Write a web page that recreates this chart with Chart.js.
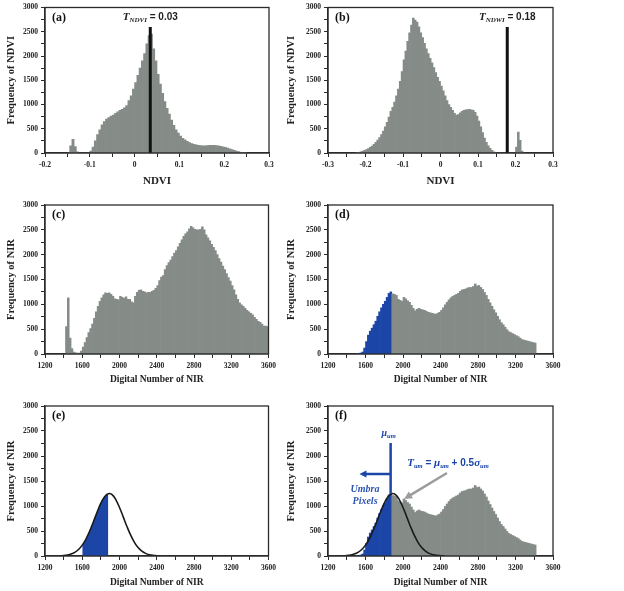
<!DOCTYPE html>
<html>
<head>
<meta charset="utf-8">
<script src="https://cdn.jsdelivr.net/npm/chart.js@4.4.0/dist/chart.umd.min.js"></script>
<style>
  html, body { margin: 0; padding: 0; background: #fff; }
  #fig { position: relative; width: 624px; height: 591px; overflow: hidden; }
  #fig canvas { position: absolute; }
</style>
</head>
<body>
<div id="fig">
  <canvas id="pa" width="280" height="195" style="left:0;top:0"></canvas>
  <canvas id="pb" width="344" height="195" style="left:280px;top:0"></canvas>
  <canvas id="pc" width="280" height="195" style="left:0;top:195px"></canvas>
  <canvas id="pd" width="344" height="195" style="left:280px;top:195px"></canvas>
  <canvas id="pe" width="280" height="201" style="left:0;top:390px"></canvas>
  <canvas id="pf" width="344" height="201" style="left:280px;top:390px"></canvas>
</div>
<script>
// ── data ────────────────────────────────────────────────────────────────────
const ndviBin = 0.005
const nirBin = 20

// (a) NDVI histogram, first bin starts at -0.15
const ndviStartA = -0.15
const freqA = [
  10, 150, 280, 130, 25, 0, 0, 0, 0, 0,
  40, 120, 250, 380, 480, 580, 650, 700, 730, 760,
  780, 820, 850, 880, 900, 930, 980, 1080, 1180, 1320,
  1450, 1600, 1750, 1900, 2050, 2250, 2420, 2450, 2150, 1900,
  1620, 1420, 1230, 1060, 920, 800, 680, 570, 480, 410,
  350, 300, 270, 240, 215, 195, 180, 170, 160, 155,
  150, 150, 155, 160, 160, 158, 155, 148, 140, 128,
  115, 100, 85, 70, 55, 40, 28, 15, 6, 2,
]
const thresholdA = 0.035
const thresholdTextA = '0.03'

// (b) NDWI histogram, first bin starts at -0.225
const ndviStartB = -0.225
const freqB = [
  8, 15, 25, 40, 55, 70, 90, 115, 145, 180,
  220, 265, 320, 380, 450, 540, 630, 740, 860, 940,
  1050, 1180, 1320, 1480, 1680, 1920, 2100, 2300, 2480, 2640,
  2780, 2740, 2700, 2600, 2480, 2380, 2260, 2150, 2050, 1950,
  1860, 1760, 1660, 1560, 1480, 1380, 1280, 1180, 1080, 1000,
  940, 880, 820, 780, 790, 830, 860, 880, 890, 895,
  900, 890, 880, 840, 760, 660, 540, 420, 310, 220,
  150, 95, 55, 25, 10, 0, 0, 0, 0, 0,
  0, 0, 0, 0, 0, 120, 430, 260, 40, 0,
]
const thresholdB = 0.178
const thresholdTextB = '0.18'
const thresholdTop = 2600

// (c) NIR histogram of the whole scene, first bin starts at 1420
const nirStartC = 1420
const freqC = [
  550, 1130, 320, 110, 40, 25, 20, 20, 60, 140,
  230, 330, 430, 510, 600, 720, 850, 960, 1060, 1130,
  1190, 1230, 1220, 1230, 1200, 1160, 1110, 1100, 1090, 1160,
  1140, 1120, 1150, 1100, 1100, 1050, 1030, 1160, 1240, 1280,
  1290, 1260, 1250, 1230, 1240, 1240, 1260, 1280, 1320, 1380,
  1480, 1550, 1580, 1700, 1780, 1840, 1890, 1960, 2030, 2080,
  2160, 2230, 2300, 2370, 2420, 2460, 2520, 2570, 2540, 2510,
  2500, 2500, 2510, 2560, 2500, 2400, 2340, 2280, 2210, 2150,
  2080, 2000, 1920, 1850, 1770, 1700, 1620, 1540, 1470, 1380,
  1290, 1190, 1100, 1030, 990, 960, 920, 880, 850, 820,
  790, 740, 700, 660, 640, 600, 560, 560, 550,
]

// (d)/(f) NIR histogram of the water-masked scene, first bin starts at 1500
const nirStartD = 1500
const freqD = [
  5, 10, 20, 40, 120, 250, 380, 460, 520, 590,
  660, 760, 850, 930, 1000, 1060, 1140, 1220, 1250, 1210,
  1200, 1180, 1100, 1080, 1060, 1140, 1110, 1070, 1040, 980,
  920, 870, 900, 920, 900, 890, 880, 860, 840, 830,
  820, 810, 800, 820, 840, 880, 930, 990, 1040, 1090,
  1130, 1160, 1180, 1200, 1220, 1260, 1290, 1300, 1310, 1330,
  1340, 1340, 1360, 1410, 1370, 1380, 1340, 1300, 1240, 1180,
  1100, 1030, 960, 890, 830, 760, 690, 630, 590, 540,
  490, 450, 430, 410, 390, 370, 350, 320, 290, 280,
  270, 260, 250, 240, 230, 220,
]
const umbraThreshold = 1880
const umbraStart = 1600

// (e)/(f) fitted umbra curve
const curveDN = [1360, 1400, 1440, 1480, 1520, 1560, 1600, 1640, 1680, 1720, 1760, 1800, 1840, 1880,
  1920, 1960, 2000, 2040, 2080, 2120, 2160, 2200, 2240, 2280, 2320, 2360, 2400, 2440]
const curveFreq = [4, 8, 19, 38, 72, 130, 217, 340, 499, 685, 879, 1056, 1187, 1247,
  1227, 1129, 971, 783, 590, 416, 274, 169, 98, 53, 27, 13, 6, 2]

// (f) annotation anchors, in data units
const muUm = 1868
const muLine = [1250, 2260]
const umbraArrow = { y: 1640, tip: 1535 }
const pointer = { from: [2469, 1660], to: [2011, 1140] }

// ── styles ──────────────────────────────────────────────────────────────────
const GRAY = '#858c88'
const BLUE = '#1b46a8'
const INK = '#2b2b2b'
const SERIF = "'Liberation Serif', 'Times New Roman', serif"
const SANS = "'Liberation Sans', Arial, sans-serif"

Chart.defaults.font.family = SERIF
Chart.defaults.font.weight = 'bold'
Chart.defaults.color = '#222'
Chart.defaults.animation = false
Chart.defaults.plugins.legend.display = false
Chart.defaults.plugins.tooltip.enabled = false

const toBins = (start, width, values) => values.map((v, i) => ({ x: start + (i + 0.5) * width, y: v }))
const curvePts = curveDN.map((x, i) => ({ x, y: curveFreq[i] }))

// plot-area boxes (canvas-relative)
const rowBox = [
  { h: 195, top: 5, bottom: 153, titleY: 181 },
  { h: 195, top: 10, bottom: 159, titleY: 185 },
  { h: 201, top: 16, bottom: 166, titleY: 193 },
]
const colBox = [
  { w: 280, left: 45, right: 269 },
  { w: 344, left: 48, right: 273 },
]

const ndviLabel = v => {
  const r = Math.round(v * 100) / 100
  return Math.abs(r * 10 - Math.round(r * 10)) < 1e-6 ? String(Math.round(r * 10) / 10) : ''
}
const nirLabel = v => (Math.round(v) % 400 === 0 ? String(Math.round(v)) : '')

function scales(box, x, yTitle) {
  const grid = { offset: false, drawOnChartArea: false, tickLength: 4, tickColor: INK, tickWidth: 1 }
  const border = { display: true, color: INK, width: 1.3 }
  const lh = x.titleSize * 0.6
  return {
    x: {
      type: 'linear', min: x.min, max: x.max, offset: false,
      afterFit: s => { s.height = box.h - box.bottom },
      grid, border,
      ticks: { stepSize: x.step, autoSkip: false, maxRotation: 0, padding: 4, font: { size: 7.5 }, callback: x.label },
      title: { display: true, text: x.title, font: { size: x.titleSize }, padding: { top: 0, bottom: box.h - box.titleY - lh } },
    },
    y: {
      type: 'linear', min: 0, max: 3000,
      afterFit: s => { s.width = box.left },
      grid, border,
      ticks: { stepSize: 250, autoSkip: false, padding: 3, font: { size: 7.5 },
        callback: v => (v % 500 === 0 ? String(v) : '') },
      title: { display: true, text: yTitle, font: { size: 10.5 }, padding: { top: 5.4, bottom: 0 } },
    },
  }
}

function rich(ctx, parts, cx, cy, color) {
  ctx.fillStyle = color
  ctx.textAlign = 'left'
  ctx.textBaseline = 'alphabetic'
  let w = 0
  parts.forEach(p => { ctx.font = p.f; p.w = ctx.measureText(p.t).width; w += p.w })
  let x = cx - w / 2
  parts.forEach(p => { ctx.font = p.f; ctx.fillText(p.t, x, cy + (p.dy || 0)); x += p.w })
}

function arrow(ctx, x1, y1, x2, y2, color, width, head) {
  const ang = Math.atan2(y2 - y1, x2 - x1)
  ctx.strokeStyle = color
  ctx.fillStyle = color
  ctx.lineWidth = width
  ctx.beginPath()
  ctx.moveTo(x1, y1)
  ctx.lineTo(x2 - Math.cos(ang) * head * 0.8, y2 - Math.sin(ang) * head * 0.8)
  ctx.stroke()
  ctx.beginPath()
  ctx.moveTo(x2, y2)
  ctx.lineTo(x2 - head * Math.cos(ang) + head * 0.5 * Math.sin(ang), y2 - head * Math.sin(ang) - head * 0.5 * Math.cos(ang))
  ctx.lineTo(x2 - head * Math.cos(ang) - head * 0.5 * Math.sin(ang), y2 - head * Math.sin(ang) + head * 0.5 * Math.cos(ang))
  ctx.closePath()
  ctx.fill()
}

const T_IT = `italic bold 11px ${SERIF}`
const SUB_IT = `italic bold 7px ${SERIF}`
const EQ = `bold 10px ${SANS}`

function deco(letter, extra) {
  return {
    id: 'deco',
    afterDatasetsDraw(chart) {
      const { ctx, chartArea: a } = chart
      ctx.save()
      ctx.strokeStyle = INK
      ctx.lineWidth = 1.3
      ctx.strokeRect(a.left, a.top, a.right - a.left, a.bottom - a.top)
      ctx.fillStyle = '#111'
      ctx.font = `bold 12px ${SERIF}`
      ctx.textAlign = 'left'
      ctx.textBaseline = 'middle'
      ctx.fillText(letter, a.left + 7, a.top + 10)
      if (extra) extra(chart, ctx)
      ctx.restore()
    },
  }
}

const thresholdNote = (sub, text, value) => (chart, ctx) => {
  const px = chart.scales.x.getPixelForValue(value)
  rich(ctx, [
    { t: 'T', f: T_IT },
    { t: sub, f: SUB_IT, dy: 2 },
    { t: ' = ' + text, f: EQ },
  ], px, chart.chartArea.top + 12, '#222')
}

function umbraNotes(chart, ctx) {
  const px = v => chart.scales.x.getPixelForValue(v)
  const py = v => chart.scales.y.getPixelForValue(v)
  ctx.strokeStyle = BLUE
  ctx.lineWidth = 2.5
  ctx.beginPath()
  ctx.moveTo(px(muUm), py(muLine[0]))
  ctx.lineTo(px(muUm), py(muLine[1]))
  ctx.stroke()
  arrow(ctx, px(muUm), py(umbraArrow.y), px(umbraArrow.tip), py(umbraArrow.y), BLUE, 2.5, 7)
  arrow(ctx, px(pointer.from[0]), py(pointer.from[1]), px(pointer.to[0]), py(pointer.to[1]), '#9c9c9c', 2.5, 8)

  const sub = `italic bold 6.5px ${SERIF}`
  rich(ctx, [{ t: 'μ', f: `italic bold 10px ${SERIF}` }, { t: 'um', f: sub, dy: 1.5 }],
    px(muUm) - 2, py(2460) + 3, BLUE)
  rich(ctx, [
    { t: 'T', f: T_IT }, { t: 'um', f: sub, dy: 2 },
    { t: ' = ', f: EQ },
    { t: 'μ', f: T_IT }, { t: 'um', f: sub, dy: 2 },
    { t: ' + 0.5', f: EQ },
    { t: 'σ', f: T_IT }, { t: 'um', f: sub, dy: 2 },
  ], px(2480), py(1880) + 4, BLUE)
  ctx.font = `italic bold 10px ${SERIF}`
  ctx.fillStyle = '#2d55b0'
  ctx.textAlign = 'center'
  ctx.textBaseline = 'middle'
  ctx.fillText('Umbra', px(1595), py(1340))
  ctx.fillText('Pixels', px(1595), py(1100))
}

function histDataset(points, color) {
  return {
    type: 'bar', data: points, backgroundColor: color,
    barPercentage: 1, categoryPercentage: 1, borderWidth: 0, order: 3,
  }
}
const vline = (x, top) => ({
  type: 'line', data: [{ x, y: 0 }, { x, y: top }],
  borderColor: '#111', borderWidth: 3, pointRadius: 0, order: 0,
})
const curveDataset = () => ({
  type: 'line', data: curvePts, borderColor: '#1a1a1a', borderWidth: 1.6,
  pointRadius: 0, tension: 0.4, fill: false, order: 0,
})
const umbraColor = c => (c.raw && c.raw.x < umbraThreshold ? BLUE : GRAY)

function panel(id, row, col, letter, x, yTitle, datasets, extra) {
  const box = Object.assign({}, rowBox[row], colBox[col])
  new Chart(document.getElementById(id), {
    type: 'bar',
    data: { datasets },
    options: {
      responsive: false,
      layout: { padding: { left: 0, top: box.top, right: box.w - box.right, bottom: 0 } },
      scales: scales(box, x, yTitle),
    },
    plugins: [deco(letter, extra)],
  })
}

const ndviAxisA = { min: -0.2, max: 0.3, step: 0.05, label: ndviLabel, title: 'NDVI', titleSize: 11 }
const ndviAxisB = { min: -0.3, max: 0.3, step: 0.05, label: ndviLabel, title: 'NDVI', titleSize: 11 }
const nirAxis = { min: 1200, max: 3600, step: 200, label: nirLabel, title: 'Digital Number of NIR', titleSize: 9.5 }

panel('pa', 0, 0, '(a)', ndviAxisA, 'Frequency of NDVI',
  [histDataset(toBins(ndviStartA, ndviBin, freqA), GRAY), vline(thresholdA, thresholdTop)],
  thresholdNote('NDVI', thresholdTextA, thresholdA))

panel('pb', 0, 1, '(b)', ndviAxisB, 'Frequency of NDVI',
  [histDataset(toBins(ndviStartB, ndviBin, freqB), GRAY), vline(thresholdB, thresholdTop)],
  thresholdNote('NDWI', thresholdTextB, thresholdB))

panel('pc', 1, 0, '(c)', nirAxis, 'Frequency of NIR',
  [histDataset(toBins(nirStartC, nirBin, freqC), GRAY)])

panel('pd', 1, 1, '(d)', nirAxis, 'Frequency of NIR',
  [histDataset(toBins(nirStartD, nirBin, freqD), umbraColor)])

panel('pe', 2, 0, '(e)', nirAxis, 'Frequency of NIR', [
  curveDataset(),
  {
    type: 'line', data: curvePts.filter(p => p.x >= umbraStart && p.x <= umbraThreshold),
    borderWidth: 0, pointRadius: 0, tension: 0.4, fill: 'origin', backgroundColor: BLUE, order: 2,
  },
])

panel('pf', 2, 1, '(f)', nirAxis, 'Frequency of NIR',
  [histDataset(toBins(nirStartD, nirBin, freqD), umbraColor), curveDataset()],
  umbraNotes)
</script>
</body>
</html>
